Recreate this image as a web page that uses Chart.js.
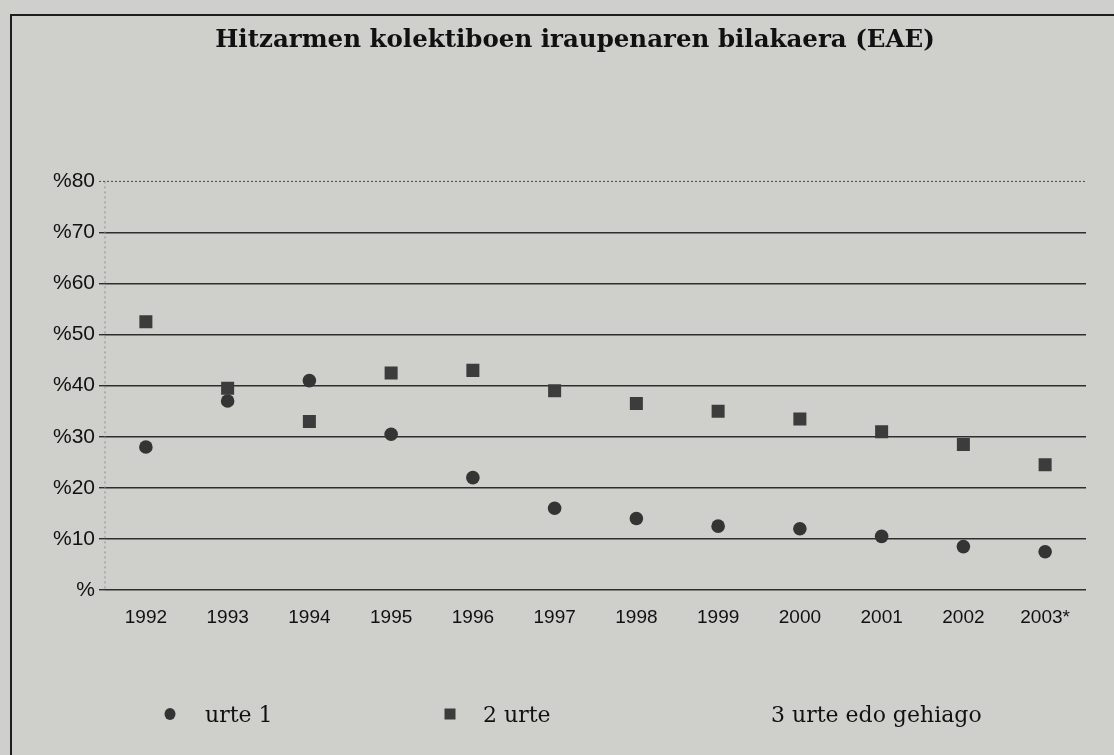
<!DOCTYPE html>
<html><head><meta charset="utf-8">
<script src="https://cdn.jsdelivr.net/npm/chart.js@4"></script>
<style>
html,body{margin:0;padding:0;background:#cfcfcc;width:1114px;height:755px;overflow:hidden}
#frame{position:absolute;left:10px;top:14px;width:1110px;height:750px;border-left:2px solid #1e1e1e;border-top:2px solid #1e1e1e}
#wrap{position:absolute;left:0;top:0;width:1114px;height:755px}
#legend{position:absolute;top:699px;left:0;width:1114px;height:30px;font-family:'DejaVu Serif',serif;font-size:22px;color:#111}
.li{position:absolute;top:0;height:30px;display:flex;align-items:center;white-space:nowrap}
.mk{position:absolute;top:50%;transform:translate(-50%,-50%)}
</style></head>
<body>
<div id="frame"></div>
<div id="wrap"><canvas id="c" width="1114" height="755"></canvas></div>
<div id="legend"></div>
<script>
const titleText = 'Hitzarmen kolektiboen iraupenaren bilakaera (EAE)';
const categories = ['1992','1993','1994','1995','1996','1997','1998','1999','2000','2001','2002','2003*'];
const seriesNames = ['urte 1', '2 urte', '3 urte edo gehiago'];
const urte1 = [28, 37, 41, 30.5, 22, 16, 14, 12.5, 12, 10.5, 8.5, 7.5];
const urte2 = [52.5, 39.5, 33, 42.5, 43, 39, 36.5, 35, 33.5, 31, 28.5, 24.5];
const urte3 = [null, null, null, null, null, null, null, null, null, null, null, null];
const yMin = 0, yMax = 80, yStep = 10;
const tickLabel = v => v === 0 ? '%' : '%' + v;

const extraLines = {
  id: 'extraLines',
  beforeDatasetsDraw(chart) {
    const {ctx, chartArea, scales: {y}} = chart;
    const yt = y.getPixelForValue(yMax);
    const yb = y.getPixelForValue(yMin);
    ctx.save();
    ctx.strokeStyle = '#4a4a4a'; ctx.lineWidth = 1; ctx.setLineDash([2, 2]);
    ctx.beginPath(); ctx.moveTo(chartArea.left - 6, yt); ctx.lineTo(chartArea.right, yt); ctx.stroke();
    ctx.strokeStyle = '#8a8a8a'; ctx.setLineDash([2, 3]);
    ctx.beginPath(); ctx.moveTo(chartArea.left, yt); ctx.lineTo(chartArea.left, yb); ctx.stroke();
    ctx.restore();
  }
};

const chart = new Chart(document.getElementById('c'), {
  type: 'line',
  data: {
    labels: categories,
    datasets: [
      {label: seriesNames[0], data: urte1, showLine: false, pointStyle: 'circle', pointRadius: 6.8, pointHoverRadius: 6.8,
       backgroundColor: '#343434', borderColor: '#343434', borderWidth: 0},
      {label: seriesNames[1], data: urte2, showLine: false, pointStyle: 'rect', pointRadius: 9.2, pointHoverRadius: 9.2,
       backgroundColor: '#3c3c3c', borderColor: '#3c3c3c', borderWidth: 0},
      {label: seriesNames[2], data: urte3, showLine: false, pointStyle: 'triangle', pointRadius: 6,
       backgroundColor: 'rgba(0,0,0,0)', borderColor: 'rgba(0,0,0,0)', borderWidth: 0}
    ]
  },
  options: {
    responsive: false,
    animation: false,
    layout: {padding: {left: 36, right: 0, top: 26, bottom: 127}},
    plugins: {
      legend: {display: false},
      tooltip: {enabled: false},
      title: {display: true, text: titleText, color: '#111',
        font: {family: 'DejaVu Serif', size: 24.5, weight: 'bold'}, padding: {top: 0, bottom: 126}}
    },
    scales: {
      x: {
        type: 'category', offset: true,
        grid: {display: false, drawTicks: false},
        border: {display: false},
        ticks: {color: '#111', padding: 16, font: {family: 'Liberation Sans', size: 19}, maxRotation: 0, autoSkip: false},
        afterFit(s) { s.height = 38; }
      },
      y: {
        position: 'left',
        min: yMin, max: yMax,
        grid: {color: c => (c.tick && c.tick.value === yMax) ? 'rgba(0,0,0,0)' : '#2e2e2e', lineWidth: 1.4, drawTicks: true, tickLength: 6},
        border: {display: false},
        ticks: {stepSize: yStep, color: '#111', padding: 4, font: {family: 'Liberation Sans', size: 21}, callback: tickLabel},
        afterFit(s) { s.width = 69; }
      },
      yRight: {
        type: 'linear', position: 'right', display: true,
        grid: {display: false, drawTicks: false},
        border: {display: false},
        ticks: {display: false},
        afterFit(s) { s.width = 28; }
      }
    }
  },
  plugins: [extraLines]
});

// HTML legend built from the chart's datasets
const legendPos = [{mx: 170, tx: 205}, {mx: 450, tx: 483}, {mx: 750, tx: 771}];
const legendEl = document.getElementById('legend');
chart.data.datasets.forEach((ds, i) => {
  const item = document.createElement('div');
  item.className = 'li';
  item.style.left = legendPos[i].tx + 'px';
  item.textContent = ds.label;
  legendEl.appendChild(item);
  const mk = document.createElement('div');
  mk.className = 'mk';
  mk.style.left = legendPos[i].mx + 'px';
  if (ds.pointStyle === 'circle') {
    mk.style.cssText += 'width:11px;height:12px;border-radius:50%;background:' + ds.backgroundColor;
  } else if (ds.pointStyle === 'rect') {
    mk.style.cssText += 'width:11px;height:11px;background:' + ds.backgroundColor;
  } else {
    mk.style.cssText += 'width:0;height:0;background:' + ds.backgroundColor;
  }
  legendEl.appendChild(mk);
});
</script>
</body></html>
